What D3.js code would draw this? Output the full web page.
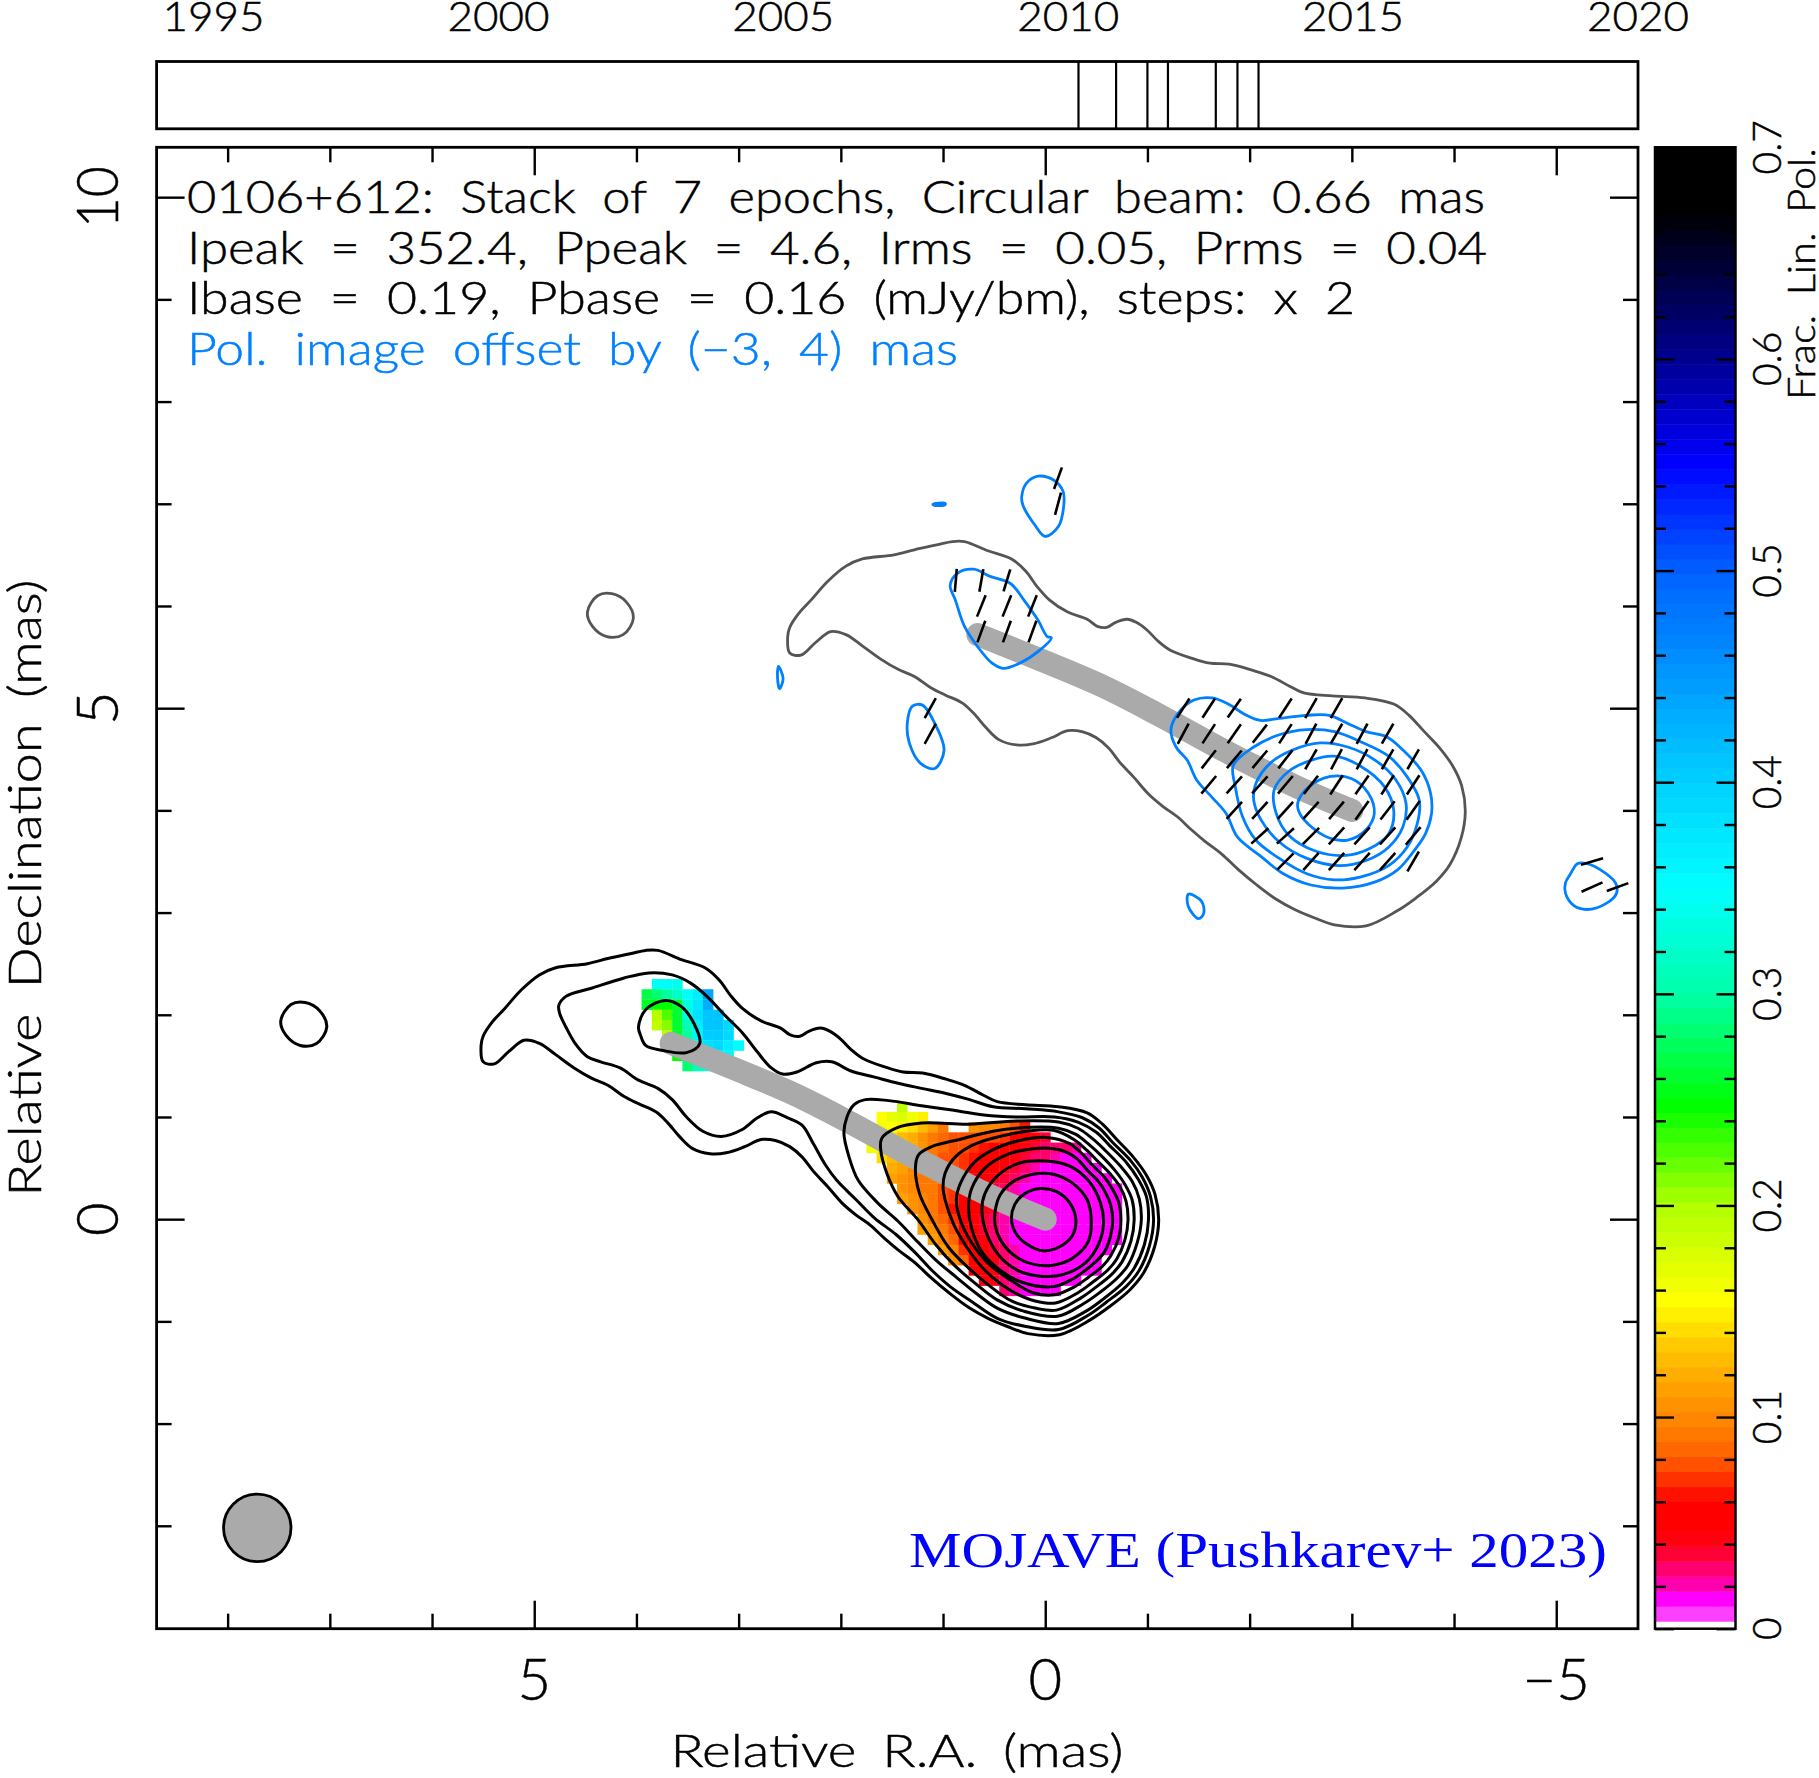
<!DOCTYPE html>
<html>

<head>
    <meta charset="utf-8">
    <script src="https://cdn.jsdelivr.net/npm/d3@7/dist/d3.min.js"></script>
    <style type="text/css">
    body {
        margin: 0;
        background: #fff;
    }

    text {
        font-family: "Lato", "Open Sans", sans-serif;
        font-weight: 300;
        fill: #000;
    }

    .tick line {
        stroke: #000;
        stroke-width: 2.4;
    }
    </style>
</head>

<body>
    <div id="chart"></div>
    <script type="text/javascript">
    // all positions in mas (RA, Dec)
    var contour1 = [[5.52,1.70],[5.50,1.54],[5.39,1.52],[5.25,1.64],[5.10,1.75],[4.95,1.72],[4.79,1.61],[4.61,1.48],[4.44,1.38],[4.28,1.31],[4.12,1.20],[3.98,1.13],[3.81,1.05],[3.70,0.95],[3.58,0.81],[3.45,0.69],[3.28,0.64],[3.12,0.65],[2.94,0.71],[2.78,0.78],[2.64,0.77],[2.50,0.71],[2.38,0.61],[2.27,0.47],[2.13,0.32],[1.99,0.16],[1.85,0.04],[1.71,-0.06],[1.57,-0.19],[1.44,-0.30],[1.27,-0.43],[1.11,-0.58],[0.93,-0.73],[0.74,-0.87],[0.56,-0.97],[0.37,-1.05],[0.17,-1.12],[-0.14,-1.13],[-0.44,-0.985],[-0.63,-0.855],[-0.83,-0.69],[-0.96,-0.53],[-1.07,-0.27],[-1.11,-0.01],[-1.075,0.24],[-0.99,0.43],[-0.86,0.61],[-0.70,0.78],[-0.56,0.93],[-0.41,1.04],[-0.13,1.10],[0.19,1.12],[0.47,1.15],[0.60,1.21],[0.79,1.31],[0.97,1.37],[1.20,1.43],[1.39,1.44],[1.57,1.49],[1.78,1.57],[1.90,1.66],[2.01,1.77],[2.11,1.84],[2.20,1.87],[2.31,1.84],[2.40,1.79],[2.49,1.80],[2.59,1.87],[2.78,1.94],[2.96,2.06],[3.08,2.19],[3.19,2.34],[3.33,2.46],[3.56,2.54],[3.79,2.63],[3.91,2.63],[4.05,2.60],[4.28,2.55],[4.48,2.50],[4.79,2.46],[4.95,2.39],[5.13,2.24],[5.29,2.06],[5.41,1.93],[5.50,1.79]];
    var contourIsland = [[7.48,1.94],[7.38,2.10],[7.24,2.12],[7.10,2.04],[7.03,1.88],[7.13,1.72],[7.29,1.70],[7.43,1.80]];
    var contour2 = [[4.76,2.09],[4.69,2.18],[4.44,2.26],[4.12,2.36],[3.88,2.41],[3.65,2.39],[3.47,2.31],[3.31,2.18],[3.14,2.00],[2.96,1.82],[2.82,1.64],[2.68,1.48],[2.57,1.42],[2.43,1.44],[2.24,1.53],[2.09,1.54],[1.90,1.45],[1.67,1.39],[1.44,1.33],[1.21,1.28],[0.97,1.23],[0.74,1.17],[0.51,1.10],[0.19,1.08],[-0.13,1.05],[-0.37,0.99],[-0.53,0.89],[-0.66,0.75],[-0.83,0.58],[-0.95,0.41],[-1.03,0.22],[-1.06,-0.01],[-1.02,-0.26],[-0.92,-0.50],[-0.79,-0.66],[-0.60,-0.81],[-0.42,-0.94],[-0.13,-1.08],[0.19,-1.05],[0.47,-0.97],[0.70,-0.82],[0.93,-0.66],[1.11,-0.50],[1.27,-0.33],[1.46,-0.15],[1.67,0.01],[1.85,0.19],[2.04,0.38],[2.15,0.53],[2.27,0.74],[2.38,0.92],[2.54,1.00],[2.68,1.05],[2.82,0.99],[2.96,0.88],[3.17,0.81],[3.35,0.86],[3.51,1.00],[3.65,1.17],[3.79,1.28],[3.98,1.36],[4.16,1.48],[4.35,1.54],[4.48,1.59],[4.60,1.72],[4.69,1.88],[4.75,2.01]];
    var contourKnot = [[3.98,1.88],[3.91,2.05],[3.72,2.14],[3.56,2.08],[3.44,1.92],[3.38,1.72],[3.51,1.63],[3.74,1.65],[3.91,1.70],[3.96,1.80]];
    var contour3 = [[1.97,0.84],[1.94,1.00],[1.87,1.12],[1.76,1.17],[1.53,1.16],[1.21,1.11],[0.93,1.07],[0.60,1.02],[0.28,1.00],[-0.09,1.00],[-0.32,0.95],[-0.50,0.85],[-0.63,0.72],[-0.79,0.56],[-0.91,0.39],[-0.99,0.22],[-1.01,-0.01],[-0.97,-0.25],[-0.87,-0.48],[-0.75,-0.63],[-0.57,-0.78],[-0.40,-0.90],[-0.13,-1.02],[0.19,-0.97],[0.47,-0.87],[0.67,-0.73],[0.88,-0.56],[1.07,-0.40],[1.25,-0.22],[1.44,-0.02],[1.64,0.16],[1.83,0.38],[1.92,0.61]];
    var contour4 = [[1.61,0.68],[1.60,0.79],[1.46,0.89],[1.21,0.94],[0.74,0.93],[0.28,0.96],[-0.13,0.95],[-0.32,0.89],[-0.46,0.79],[-0.59,0.67],[-0.735,0.52],[-0.85,0.37],[-0.92,0.20],[-0.94,-0.01],[-0.90,-0.23],[-0.81,-0.45],[-0.70,-0.58],[-0.53,-0.72],[-0.37,-0.83],[-0.12,-0.95],[0.21,-0.90],[0.47,-0.79],[0.67,-0.64],[0.88,-0.46],[1.07,-0.25],[1.25,0.00],[1.44,0.22],[1.55,0.45]];
    var contour5 = [[1.27,0.50],[1.24,0.63],[1.11,0.71],[0.84,0.78],[0.51,0.86],[0.14,0.90],[-0.13,0.89],[-0.30,0.83],[-0.43,0.73],[-0.55,0.62],[-0.68,0.48],[-0.78,0.34],[-0.85,0.19],[-0.87,-0.01],[-0.84,-0.21],[-0.75,-0.42],[-0.65,-0.54],[-0.49,-0.67],[-0.35,-0.77],[-0.11,-0.89],[0.10,-0.87],[0.33,-0.80],[0.56,-0.64],[0.77,-0.46],[0.95,-0.27],[1.11,0.00],[1.23,0.25]];
    var contour6 = [[1.00,0.32],[0.98,0.45],[0.88,0.61],[0.70,0.73],[0.44,0.81],[0.18,0.86],[-0.08,0.87],[-0.28,0.78],[-0.40,0.68],[-0.51,0.57],[-0.63,0.45],[-0.73,0.32],[-0.79,0.18],[-0.81,-0.01],[-0.78,-0.20],[-0.70,-0.39],[-0.61,-0.50],[-0.46,-0.62],[-0.32,-0.72],[-0.10,-0.82],[0.10,-0.80],[0.30,-0.72],[0.44,-0.63],[0.61,-0.48],[0.77,-0.27],[0.90,-0.04],[0.98,0.19]];
    var contour7 = [[0.87,0.19],[0.83,0.35],[0.70,0.55],[0.51,0.68],[0.25,0.77],[-0.01,0.80],[-0.24,0.74],[-0.36,0.64],[-0.47,0.52],[-0.58,0.41],[-0.66,0.29],[-0.72,0.16],[-0.74,-0.01],[-0.72,-0.18],[-0.64,-0.36],[-0.56,-0.46],[-0.42,-0.57],[-0.29,-0.66],[-0.09,-0.74],[0.12,-0.72],[0.35,-0.59],[0.56,-0.43],[0.72,-0.23],[0.83,-0.01]];
    var contour8 = [[0.75,0.12],[0.72,0.30],[0.59,0.50],[0.38,0.63],[0.12,0.69],[-0.14,0.68],[-0.30,0.60],[-0.42,0.47],[-0.52,0.37],[-0.59,0.26],[-0.64,0.14],[-0.66,-0.01],[-0.64,-0.16],[-0.58,-0.32],[-0.50,-0.41],[-0.38,-0.51],[-0.26,-0.59],[-0.08,-0.66],[0.22,-0.62],[0.44,-0.50],[0.62,-0.32],[0.72,-0.09]];
    var contour9 = [[0.62,0.09],[0.59,0.25],[0.46,0.43],[0.25,0.55],[-0.01,0.57],[-0.24,0.52],[-0.42,0.38],[-0.54,0.16],[-0.57,-0.04],[-0.52,-0.25],[-0.39,-0.43],[-0.18,-0.54],[0.02,-0.56],[0.25,-0.51],[0.44,-0.37],[0.57,-0.15]];
    var contour10 = [[0.49,0.08],[0.44,0.24],[0.31,0.37],[0.12,0.44],[-0.08,0.44],[-0.27,0.35],[-0.41,0.19],[-0.45,-0.01],[-0.42,-0.22],[-0.27,-0.38],[-0.08,-0.45],[0.12,-0.44],[0.31,-0.35],[0.44,-0.20],[0.49,-0.06]];
    var contour11 = [[0.33,-0.01],[0.30,0.14],[0.20,0.25],[0.05,0.30],[-0.11,0.27],[-0.24,0.16],[-0.30,-0.01],[-0.26,-0.17],[-0.14,-0.27],[0.02,-0.31],[0.17,-0.25],[0.28,-0.15]];

    // polarised intensity contours, already offset on the map
    var polMain1 = [[-1.23,4.79],[-1.30,4.95],[-1.455,5.08],[-1.635,5.10],[-1.79,5.04],[-1.97,4.93],[-2.106,4.88],[-2.286,4.90],[-2.556,4.93],[-2.78,4.93],[-2.96,4.85],[-3.14,4.77],[-3.34,4.72],[-3.50,4.59],[-3.68,4.39],[-3.77,4.17],[-3.78,3.97],[-3.72,3.77],[-3.59,3.58],[-3.45,3.42],[-3.23,3.30],[-2.91,3.24],[-2.60,3.27],[-2.33,3.38],[-2.11,3.55],[-1.88,3.74],[-1.77,3.97],[-1.63,4.13],[-1.48,4.30],[-1.39,4.49],[-1.28,4.62]];
    var polMain2 = [[-1.84,4.44],[-2.04,4.62],[-2.29,4.74],[-2.56,4.79],[-2.83,4.77],[-3.09,4.67],[-3.36,4.53],[-3.54,4.33],[-3.66,4.10],[-3.64,3.87],[-3.54,3.64],[-3.36,3.46],[-3.09,3.35],[-2.83,3.32],[-2.56,3.38],[-2.29,3.53],[-2.06,3.71],[-1.93,3.94],[-1.86,4.23]];
    var polMain3 = [[-2.06,4.26],[-2.20,4.46],[-2.42,4.59],[-2.69,4.66],[-2.96,4.62],[-3.23,4.49],[-3.43,4.30],[-3.53,4.07],[-3.50,3.84],[-3.36,3.64],[-3.14,3.51],[-2.87,3.46],[-2.56,3.53],[-2.29,3.69],[-2.11,3.91],[-2.04,4.10]];
    var polMain4 = [[-2.24,4.20],[-2.38,4.38],[-2.60,4.49],[-2.83,4.53],[-3.09,4.43],[-3.32,4.23],[-3.41,4.00],[-3.36,3.77],[-3.18,3.63],[-2.94,3.56],[-2.65,3.60],[-2.38,3.76],[-2.26,3.97]];
    var polMain5 = [[-2.47,4.07],[-2.58,4.23],[-2.78,4.33],[-3.00,4.31],[-3.16,4.17],[-3.22,3.97],[-3.14,3.81],[-2.96,3.71],[-2.78,3.73],[-2.58,3.86],[-2.49,3.97]];
    var polLobe = [[0.93,6.20],[0.86,6.32],[0.70,6.36],[0.54,6.29],[0.34,6.22],[0.21,6.06],[0.07,5.86],[-0.02,5.70],[-0.06,5.69],[0.05,5.57],[0.25,5.44],[0.41,5.39],[0.52,5.44],[0.66,5.60],[0.79,5.80],[0.88,6.06]];
    var polLeft = [[1.35,4.85],[1.30,5.02],[1.20,5.03],[1.08,4.85],[0.99,4.59],[1.08,4.41],[1.22,4.46],[1.33,4.66]];
    var polTop = [[0.23,7.07],[0.185,7.20],[0.07,7.27],[-0.085,7.23],[-0.175,7.12],[-0.18,6.97],[-0.13,6.78],[0.0,6.68],[0.10,6.79],[0.22,6.99]];
    var polDash = [[1.10,6.995],[0.98,7.005],[0.98,6.99],[1.09,6.985]];
    var polTiny = [[2.61,5.41],[2.565,5.29],[2.60,5.19],[2.62,5.31]];
    var polLower = [[-1.40,3.18],[-1.53,3.11],[-1.55,2.99],[-1.50,2.94],[-1.40,3.06]];
    var polRight = [[-5.09,3.29],[-5.14,3.38],[-5.21,3.48],[-5.30,3.48],[-5.43,3.42],[-5.58,3.29],[-5.59,3.19],[-5.49,3.09],[-5.30,3.03],[-5.17,3.07],[-5.09,3.19]];

    var ridgeRa = [0, 0.54, 1.22, 1.90, 2.45, 3.04, 3.66];
    var ridgeDec = [0, 0.23, 0.57, 0.94, 1.22, 1.47, 1.72];

    var polOffset = [-3, 4];
    var beamDiameter = 0.66;
    var beamCentre = [7.71, -3.02];

    // fractional pol. pixels: [dec, first RA, values going west in 0.1 mas steps]
    var fpolCore = [
        [1.1, 1.4, [.19]],
        [1.0, 1.6, [.155,.17,.175,.16,.145]],
        [0.9, 1.6, [.16,.155,.15,.14,.125,.11,.09]],
        [0.9, 0.7, [.105,.10,.10,.09,.075,.065]],
        [0.8, 1.6, [.15,.14,.13,.12,.105,.09,.085,.08,.08,.08,.08,.075,.07,.06,.05,.04,.035]],
        [0.7, 1.7, [.16,.15,.14,.13,.12,.105,.09,.085,.08,.075,.07,.065,.06,.055,.05,.04,.035,.03,.028,.025,.022]],
        [0.6, 1.6, [.14,.13,.12,.11,.10,.09,.08,.075,.07,.065,.06,.055,.05,.045,.038,.03,.026,.02,.016,.013,.012]],
        [0.5, 1.5, [.12,.11,.10,.095,.085,.08,.075,.07,.06,.055,.05,.045,.038,.03,.022,.016,.013,.012,.012,.012,.012]],
        [0.4, 1.5, [.115,.105,.10,.095,.09,.08,.075,.065,.055,.05,.045,.038,.03,.022,.016,.013,.012,.012,.012,.012,.012,.012]],
        [0.3, 1.4, [.105,.10,.095,.09,.08,.07,.06,.05,.045,.038,.03,.024,.016,.013,.012,.012,.012,.012,.012,.012,.012,.012]],
        [0.2, 1.4, [.11,.105,.10,.09,.08,.07,.055,.05,.045,.035,.028,.02,.015,.012,.012,.012,.012,.012,.012,.012,.012,.012]],
        [0.1, 1.3, [.105,.10,.09,.08,.065,.055,.05,.04,.032,.024,.016,.013,.012,.012,.012,.012,.012,.012,.012,.012,.012]],
        [0.0, 1.2, [.105,.095,.085,.07,.055,.05,.038,.03,.022,.015,.012,.012,.012,.012,.012,.012,.012,.012,.012,.012]],
        [-0.1, 1.2, [.115,.105,.09,.075,.055,.05,.038,.03,.022,.015,.012,.012,.012,.012,.012,.012,.012,.012,.012,.012]],
        [-0.2, 1.1, [.115,.10,.085,.06,.05,.04,.03,.024,.016,.013,.012,.012,.012,.012,.012,.012,.012,.012,.012]],
        [-0.3, 1.0, [.115,.10,.07,.055,.05,.038,.03,.022,.014,.012,.012,.012,.012,.012,.012,.012,.012]],
        [-0.4, 0.9, [.105,.085,.055,.05,.04,.03,.022,.014,.012,.012,.012,.012,.012,.012,.012]],
        [-0.5, 0.7, [.06,.05,.04,.03,.02,.014,.012,.012,.012,.012,.012,.012,.012]],
        [-0.6, 0.6, [.05,.04,.028,.018,.013,.012,.012,.012,.012,.012]],
        [-0.7, 0.4, [.03,.022,.016,.013,.012,.012]]
    ];
    var fpolKnot = [
        [2.3, 3.8, [.345,.345,.34]],
        [2.2, 3.9, [.27,.285,.30,.32,.345,.37,.44]],
        [2.1, 3.9, [.26,.245,.245,.265,.33,.375,.43]],
        [2.0, 3.8, [.195,.225,.265,.33,.38,.41,.41]],
        [1.9, 3.8, [.19,.21,.26,.31,.37,.41,.41,.39]],
        [1.8, 3.7, [.2,.26,.30,.36,.40,.40,.39]],
        [1.7, 3.7, [.2,.24,.30,.33,.38,.39,.37,.355]],
        [1.6, 3.6, [.25,.30,.33,.35,.36,.36]],
        [1.5, 3.5, [.28,.31,.33]]
    ];

    // EVPA sticks: [dec, [ra, position angle in deg], ...]
    var evpaRows = [
        [7.25, [-0.125,-20]],
        [7.0, [-0.125,-15]],
        [6.25, [0.875,-5],[0.625,-10],[0.375,-17]],
        [6.0, [0.625,-22],[0.375,-22],[0.125,-22]],
        [5.75, [0.625,-20],[0.375,-20],[0.125,-20]],
        [5.0, [1.125,-29],[-1.35,-33],[-1.6,-33],[-1.85,-35],[-2.35,-33],[-2.6,-30],[-2.85,-30]],
        [4.75, [1.125,-29],[-1.35,-28],[-1.6,-33],[-1.85,-35],[-2.1,-38],[-2.35,-33],[-2.6,-28],[-2.85,-30],[-3.1,-28],[-3.35,-30]],
        [4.5, [-1.6,-38],[-1.85,-40],[-2.1,-40],[-2.35,-38],[-2.6,-30],[-2.85,-28],[-3.1,-28],[-3.35,-30],[-3.6,-30]],
        [4.25, [-1.6,-40],[-1.85,-42],[-2.1,-42],[-2.35,-40],[-2.6,-38],[-2.85,-33],[-3.1,-35],[-3.35,-33],[-3.6,-33]],
        [4.0, [-1.85,-42],[-2.1,-42],[-2.35,-42],[-2.6,-42],[-2.85,-40],[-3.1,-35],[-3.35,-38],[-3.6,-35]],
        [3.75, [-2.1,-48],[-2.35,-48],[-2.6,-45],[-2.85,-42],[-3.1,-42],[-3.35,-42],[-3.6,-40]],
        [3.5, [-2.35,-45],[-2.6,-42],[-2.85,-42],[-3.1,-42],[-3.35,-42],[-3.6,-30],[-5.35,-74]],
        [3.25, [-5.35,-66],[-5.6,-70]]
    ];
    var evpaLength = 0.225;

    var epochs = [2010.18, 2010.84, 2011.39, 2011.75, 2012.59, 2012.97, 2013.34];
    var yearTicks = [1995, 2000, 2005, 2010, 2015, 2020];

    var raMajor = [5, 0, -5];
    var raMinor = [8, 7, 6, 4, 3, 2, 1, -1, -2, -3, -4];
    var decMajor = [0, 5, 10];
    var decMinor = [-3, -2, -1, 1, 2, 3, 4, 6, 7, 8, 9];
    var fpolLabels = [0, 0.1, 0.2, 0.3, 0.4, 0.5, 0.6, 0.7];
    var fpolMinor = [.02,.04,.06,.08,.12,.14,.16,.18,.22,.24,.26,.28,.32,.34,.36,.38,.42,.44,.46,.48,.52,.54,.56,.58,.62,.64,.66,.68];

    var colorValues = [.007, .014, .021, .028, .035, .045, .06, .067, .075, .085, .095, .105, .13, .155, .2, .247, .3, .35, .4, .5, .551, .6, .67, .7];
    var colorNames = ["#ff40ff","#ff00ff","#ff00b0","#ff0070","#ff0038","#ff0000","#ff0000","#ff2000","#ff4800","#ff6800","#ff8000","#ff9000","#ffc000","#ffff00","#b0ff00","#00ff00","#00ffa8","#00ffff","#00d0ff","#0060ff","#0000ff","#000090","#000000","#000000"];

    var headerLines = [
        {text: "0106+612: Stack of 7 epochs, Circular beam: 0.66 mas", len: 1298, color: "#000"},
        {text: "Ipeak = 352.4, Ppeak = 4.6, Irms = 0.05, Prms = 0.04", len: 1300, color: "#000"},
        {text: "Ibase = 0.19, Pbase = 0.16 (mJy/bm), steps: x 2", len: 1168, color: "#000"},
        {text: "Pol. image offset by (\u22123, 4) mas", len: 771, color: "#0080ff"}
    ];

    var W = 1819, H = 1778;
    var frame = {left: 156.6, right: 1638, top: 147.3, bottom: 1628.7};
    var strip = {top: 61.5, bottom: 128.8};
    var bar = {left: 1655, right: 1735.5};

    var svg = d3.select("#chart").append("svg").attr("width", W).attr("height", H)
        .style("display", "block");

    var x = d3.scaleLinear().domain([8.695, -5.8]).range([frame.left, frame.right]);
    var y = d3.scaleLinear().domain([-4.007, 10.488]).range([frame.bottom, frame.top]);
    var stripX = d3.scaleLinear().domain([1994, 2020]).range([frame.left, frame.right]);
    var barY = d3.scaleLinear().domain([0, 0.7]).range([frame.bottom, frame.top]);
    var colorScale = d3.scaleLinear().domain(colorValues).range(colorNames);

    var bandStep = 0.00707;

    // the wedge is stepped, so pixels and wedge share the same bands
    function bandColor(v) {
        if (v < bandStep / 2) return "#fff";
        var k = Math.floor((v - bandStep / 2) / bandStep);
        return colorScale(bandStep * (k + 1));
    }

    function addLabel(g, opts) {
        var color = opts.color || "#000";
        var t = g.append("text")
            .attr("text-anchor", opts.anchor || "middle")
            .attr("font-size", opts.size)
            .attr("transform", "translate(" + opts.x + "," + opts.y + ")" + (opts.rotate ? " rotate(" + opts.rotate + ")" : ""))
            .style("fill", color)
            .style("stroke", color)
            .style("stroke-width", opts.family ? 0 : 0.5)
            .text(opts.text);
        if (opts.len) t.attr("textLength", opts.len).attr("lengthAdjust", "spacingAndGlyphs");
        if (opts.family) t.style("font-family", opts.family).style("font-weight", 400);
        if (opts.wordSpacing) t.style("word-spacing", opts.wordSpacing);
        return t;
    }

    // time strip
    var stripG = svg.append("g");
    stripG.append("rect")
        .attr("x", frame.left).attr("y", strip.top)
        .attr("width", frame.right - frame.left).attr("height", strip.bottom - strip.top)
        .attr("fill", "none").attr("stroke", "#000").attr("stroke-width", 2.8);
    stripG.selectAll("line.epoch").data(epochs).enter().append("line")
        .attr("class", "epoch")
        .attr("x1", function(d) { return stripX(d) }).attr("x2", function(d) { return stripX(d) })
        .attr("y1", strip.top).attr("y2", strip.bottom)
        .attr("stroke", "#000").attr("stroke-width", 2.2);
    yearTicks.forEach(function(yr) {
        addLabel(stripG, {text: yr, x: stripX(yr), y: 31, size: 42, len: 102});
    });

    // fractional polarisation pixels
    var cellSize = 0.1;
    var cells = [];
    fpolCore.concat(fpolKnot).forEach(function(row) {
        row[2].forEach(function(v, i) {
            cells.push({ra: row[1] - i * cellSize, dec: row[0], v: v});
        });
    });
    svg.append("g").selectAll("rect").data(cells).enter().append("rect")
        .attr("x", function(d) { return x(d.ra + cellSize / 2) })
        .attr("y", function(d) { return y(d.dec + cellSize / 2) })
        .attr("width", x(0) - x(cellSize) + 0.3)
        .attr("height", y(0) - y(cellSize) + 0.3)
        .attr("fill", function(d) { return bandColor(d.v) });

    var closedLine = d3.line()
        .x(function(d) { return x(d[0]) })
        .y(function(d) { return y(d[1]) })
        .curve(d3.curveCatmullRomClosed.alpha(0.5));
    var openLine = d3.line()
        .x(function(d) { return x(d[0]) })
        .y(function(d) { return y(d[1]) })
        .curve(d3.curveCatmullRom.alpha(0.5));

    function shifted(pts) {
        return pts.map(function(p) { return [p[0] + polOffset[0], p[1] + polOffset[1]] });
    }

    // jet ridgeline, drawn at the I map and again at the offset pol. map
    var ridge = ridgeRa.map(function(ra, i) { return [ra, ridgeDec[i]] });
    [ridge, shifted(ridge)].forEach(function(pts) {
        svg.append("path").attr("d", openLine(pts))
            .attr("fill", "none").attr("stroke", "#aaaaaa")
            .attr("stroke-width", 23).attr("stroke-linecap", "round");
    });

    function drawContours(sets, color, width) {
        svg.append("g").selectAll("path").data(sets).enter().append("path")
            .attr("d", closedLine)
            .attr("fill", "none")
            .attr("stroke", color)
            .attr("stroke-width", width)
            .attr("stroke-linejoin", "round");
    }

    drawContours([contour1, contourIsland, contour2, contourKnot, contour3, contour4, contour5, contour6, contour7, contour8, contour9, contour10, contour11], "#000", 3);
    drawContours([shifted(contour1), shifted(contourIsland)], "#555", 2.8);
    drawContours([polMain1, polMain2, polMain3, polMain4, polMain5, polLobe, polLeft, polTop, polDash, polTiny, polLower, polRight], "#0080ff", 2.8);

    // EVPA sticks
    var sticks = [];
    evpaRows.forEach(function(row) {
        row.slice(1).forEach(function(s) {
            sticks.push({ra: s[0], dec: row[0], pa: s[1] * Math.PI / 180});
        });
    });
    svg.append("g").selectAll("line").data(sticks).enter().append("line")
        .attr("x1", function(d) { return x(d.ra - Math.sin(d.pa) * evpaLength / 2) })
        .attr("y1", function(d) { return y(d.dec - Math.cos(d.pa) * evpaLength / 2) })
        .attr("x2", function(d) { return x(d.ra + Math.sin(d.pa) * evpaLength / 2) })
        .attr("y2", function(d) { return y(d.dec + Math.cos(d.pa) * evpaLength / 2) })
        .attr("stroke", "#000").attr("stroke-width", 2.6);

    // beam
    svg.append("circle")
        .attr("cx", x(beamCentre[0])).attr("cy", y(beamCentre[1]))
        .attr("r", x(0) - x(beamDiameter / 2))
        .attr("fill", "#aaaaaa").attr("stroke", "#000").attr("stroke-width", 2.8);

    // frame and ticks
    function addTicks(axis, values, size, tx, ty) {
        svg.append("g").attr("transform", "translate(" + tx + "," + ty + ")")
            .call(axis.tickValues(values).tickSize(size).tickFormat(""))
            .call(function(g) { g.select(".domain").remove() });
    }
    [[raMajor, 28], [raMinor, 15]].forEach(function(s) {
        addTicks(d3.axisBottom(x), s[0], -s[1], 0, frame.bottom);
        addTicks(d3.axisTop(x), s[0], -s[1], 0, frame.top);
    });
    [[decMajor, 28], [decMinor, 15]].forEach(function(s) {
        addTicks(d3.axisLeft(y), s[0], -s[1], frame.left, 0);
        addTicks(d3.axisRight(y), s[0], -s[1], frame.right, 0);
    });
    svg.append("rect")
        .attr("x", frame.left).attr("y", frame.top)
        .attr("width", frame.right - frame.left).attr("height", frame.bottom - frame.top)
        .attr("fill", "none").attr("stroke", "#000").attr("stroke-width", 2.8);

    // axis labels
    raMajor.forEach(function(v) {
        addLabel(svg, {text: v < 0 ? "\u2212" + (-v) : v, x: x(v), y: 1700, size: 58});
    });
    decMajor.forEach(function(v) {
        addLabel(svg, {text: v, x: 118, y: y(v), size: 58, rotate: -90, len: v === 10 ? 62 : null});
    });
    addLabel(svg, {text: "Relative R.A. (mas)", x: 897, y: 1767, size: 46, len: 453, wordSpacing: "0.2em"});
    addLabel(svg, {text: "Relative Declination (mas)", x: 41, y: 888, size: 46, rotate: -90, len: 617, wordSpacing: "0.2em"});

    // header text
    headerLines.forEach(function(line, i) {
        addLabel(svg, {text: line.text, x: 187, y: 213 + i * 50.7, size: 45, anchor: "start", len: line.len, color: line.color, wordSpacing: "0.25em"});
    });
    addLabel(svg, {text: "MOJAVE (Pushkarev+ 2023)", x: 909, y: 1567, size: 50, anchor: "start", len: 698, color: "#0000ff", family: "'Liberation Serif', serif"});

    // colour wedge, capped at the top of the scale
    var bands = d3.range(0, 99);
    var wedge = svg.append("g");
    wedge.selectAll("rect").data(bands).enter().append("rect")
        .attr("x", bar.left).attr("width", bar.right - bar.left)
        .attr("y", function(k) { return barY(Math.min(bandStep * (k + 1.5), 0.7)) })
        .attr("height", function(k) { return barY(bandStep * (k + 0.5)) - barY(Math.min(bandStep * (k + 1.5), 0.7)) + 0.5 })
        .attr("fill", function(k) { return bandColor(bandStep * (k + 1)) });
    [[fpolLabels, 19], [fpolMinor, 11]].forEach(function(s) {
        addTicks(d3.axisLeft(barY), s[0], -s[1], bar.left, 0);
        addTicks(d3.axisRight(barY), s[0], -s[1], bar.right, 0);
    });
    wedge.append("rect")
        .attr("x", bar.left).attr("y", frame.top)
        .attr("width", bar.right - bar.left).attr("height", frame.bottom - frame.top)
        .attr("fill", "none").attr("stroke", "#000").attr("stroke-width", 2.5);
    fpolLabels.forEach(function(v) {
        addLabel(svg, {text: v, x: 1781, y: barY(v), size: 39, rotate: -90});
    });
    addLabel(svg, {text: "Frac. Lin. Pol.", x: 1815, y: 400, size: 38, rotate: -90, anchor: "start", len: 252, wordSpacing: "0.2em"});
    </script>
</body>

</html>
